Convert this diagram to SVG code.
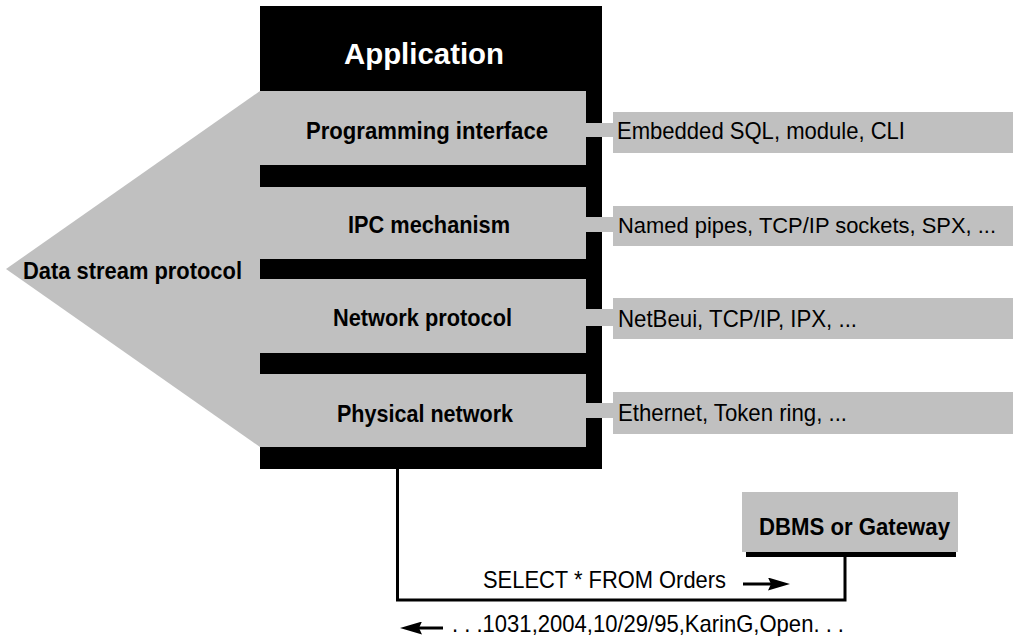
<svg xmlns="http://www.w3.org/2000/svg" width="1013" height="636" viewBox="0 0 1013 636">
<style>
.g{fill:#c0c0c0}
.k{fill:#000}
.b{font-family:"Liberation Sans",Arial,sans-serif;font-weight:bold;font-size:24px;fill:#000}
.r{font-family:"Liberation Sans",Arial,sans-serif;font-size:24px;fill:#000}
.ln{fill:none;stroke:#000;stroke-width:3}
</style>
<defs>
<marker id="ah" markerUnits="userSpaceOnUse" viewBox="0 0 22 13" refX="11" refY="6.5" markerWidth="22" markerHeight="13" orient="auto">
<path d="M0,0 L22,6.5 L0,13 L3,6.5 Z" fill="#000"/>
</marker>
</defs>
<rect width="1013" height="636" fill="#fff"/>
<g id="application">
<rect class="k" x="260" y="6" width="342" height="463"/>
<text x="344" y="64" textLength="160" lengthAdjust="spacingAndGlyphs" font-family="Liberation Sans, Arial, sans-serif" font-weight="bold" font-size="30" fill="#fff">Application</text>
</g>
<g id="data-stream-protocol">
<polygon class="g" points="260,91 6,269 260,447"/>
<text class="b" x="23" y="279" textLength="219" lengthAdjust="spacingAndGlyphs">Data stream protocol</text>
</g>
<g id="programming-interface">
<rect class="g" x="260" y="91" width="326" height="74"/>
<text class="b" x="306" y="139" textLength="242" lengthAdjust="spacingAndGlyphs">Programming interface</text>
</g>
<g id="ipc-mechanism">
<rect class="g" x="260" y="187" width="326" height="72"/>
<text class="b" x="348" y="233" textLength="162" lengthAdjust="spacingAndGlyphs">IPC mechanism</text>
</g>
<g id="network-protocol">
<rect class="g" x="260" y="279" width="326" height="74"/>
<text class="b" x="333" y="326" textLength="179" lengthAdjust="spacingAndGlyphs">Network protocol</text>
</g>
<g id="physical-network">
<rect class="g" x="260" y="374" width="326" height="73"/>
<text class="b" x="337" y="422" textLength="176" lengthAdjust="spacingAndGlyphs">Physical network</text>
</g>
<g id="detail-programming">
<rect class="g" x="613" y="112" width="400" height="41"/>
<text class="r" x="617" y="139" textLength="288" lengthAdjust="spacingAndGlyphs">Embedded SQL, module, CLI</text>
</g>
<g id="detail-ipc">
<rect class="g" x="613" y="206" width="400" height="40"/>
<text class="r" x="618" y="233" style="font-size:22px" textLength="378" lengthAdjust="spacingAndGlyphs">Named pipes, TCP/IP sockets, SPX, ...</text>
</g>
<g id="detail-network">
<rect class="g" x="613" y="298" width="400" height="41"/>
<text class="r" x="618" y="327" textLength="239" lengthAdjust="spacingAndGlyphs">NetBeui, TCP/IP, IPX, ...</text>
</g>
<g id="detail-physical">
<rect class="g" x="613" y="392" width="400" height="42"/>
<text class="r" x="618" y="421" textLength="229" lengthAdjust="spacingAndGlyphs">Ethernet, Token ring, ...</text>
</g>
<g id="dbms">
<rect class="g" x="742" y="492" width="216" height="60"/>
<rect class="k" x="746" y="552" width="210" height="5"/>
<text class="b" x="759" y="535" textLength="191" lengthAdjust="spacingAndGlyphs">DBMS or Gateway</text>
</g>
<g id="connectors">
<rect class="g" x="586" y="123" width="27" height="14"/>
<rect class="g" x="586" y="217" width="27" height="15"/>
<rect class="g" x="586" y="309" width="27" height="17"/>
<rect class="g" x="586" y="403" width="27" height="15"/>
<path class="ln" d="M397.5,469 V600 H845 V557"/>
<line class="ln" x1="743" y1="584" x2="779" y2="584" marker-end="url(#ah)"/>
<line class="ln" x1="443" y1="628" x2="411" y2="628" marker-end="url(#ah)"/>
<text class="r" x="483" y="588" textLength="243" lengthAdjust="spacingAndGlyphs">SELECT * FROM Orders</text>
<text class="r" x="452" y="632" textLength="392" lengthAdjust="spacingAndGlyphs">. . .1031,2004,10/29/95,KarinG,Open. . .</text>
</g>
</svg>
